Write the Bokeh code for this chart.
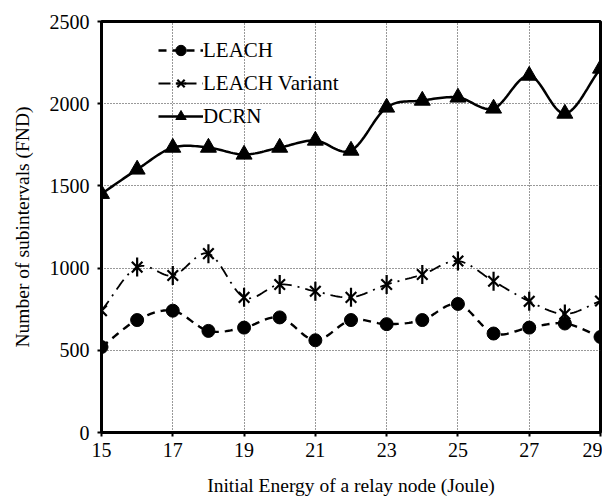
import numpy as np
from bokeh.plotting import figure
from bokeh.models import Legend, LegendItem, FixedTicker, Range1d
from bokeh.embed import file_html
from bokeh.resources import INLINE

energy = [15, 16, 17, 18, 19, 20, 21, 22, 23, 24, 25, 26, 27, 28, 29]
leach = [520, 684, 741, 618, 638, 700, 561, 684, 659, 684, 782, 602, 638, 663, 581]
leach_variant = [741, 1006, 955, 1088, 822, 900, 859, 822, 900, 961, 1043, 920, 798, 721, 800]
dcrn = [1452, 1600, 1733, 1733, 1691, 1733, 1776, 1715, 1977, 2019, 2038, 1971, 2171, 1940, 2214]
x_ticks = [15, 17, 19, 21, 23, 25, 27, 29]
y_ticks = [0, 500, 1000, 1500, 2000, 2500]

FONT = "Liberation Serif"


def smooth(xs, ys, n=16):
    # Catmull-Rom rendering of the curve through the data points
    xs = np.asarray(xs, float)
    ys = np.asarray(ys, float)
    px = np.concatenate([[2 * xs[0] - xs[1]], xs, [2 * xs[-1] - xs[-2]]])
    py = np.concatenate([[2 * ys[0] - ys[1]], ys, [2 * ys[-1] - ys[-2]]])
    ox, oy = [], []
    for i in range(1, len(px) - 2):
        t = np.linspace(0, 1, n, endpoint=False)
        for arr, out in ((px, ox), (py, oy)):
            p0, p1, p2, p3 = arr[i - 1], arr[i], arr[i + 1], arr[i + 2]
            out.extend(0.5 * ((2 * p1) + (-p0 + p2) * t + (2 * p0 - 5 * p1 + 4 * p2 - p3) * t ** 2
                              + (-p0 + 3 * p1 - 3 * p2 + p3) * t ** 3))
    ox.append(xs[-1])
    oy.append(ys[-1])
    return ox, oy


p = figure(width=602, height=501, output_backend="svg", toolbar_location=None,
           x_range=Range1d(15, 29), y_range=Range1d(0, 2500),
           min_border_left=101, min_border_right=2, min_border_top=21, min_border_bottom=69)
p.background_fill_color = "white"
p.border_fill_color = "white"
p.outline_line_color = "black"
p.outline_line_width = 3

for ax in (p.xaxis[0], p.yaxis[0]):
    ax.axis_line_width = 3
    ax.axis_line_color = "black"
    ax.major_tick_line_color = "black"
    ax.major_tick_line_width = 2
    ax.major_tick_out = 4
    ax.major_tick_in = 0
    ax.minor_tick_line_color = None
    ax.major_label_text_font = FONT
    ax.major_label_text_font_size = "20px"
    ax.major_label_text_color = "black"
    ax.axis_label_text_font = FONT
    ax.axis_label_text_font_size = "19.5px"
    ax.axis_label_text_font_style = "normal"
    ax.axis_label_text_color = "black"

p.xaxis.ticker = FixedTicker(ticks=x_ticks)
p.yaxis.ticker = FixedTicker(ticks=y_ticks)
p.xaxis.axis_label = "Initial Energy of a relay node (Joule)"
p.yaxis.axis_label = "Number of subintervals (FND)"
p.xaxis.major_label_standoff = 6
p.yaxis.major_label_standoff = 8
p.xaxis.axis_label_standoff = 15
p.yaxis.axis_label_standoff = 14

p.xgrid.grid_line_color = "#333333"
p.xgrid.grid_line_dash = "1 2"
p.xgrid.grid_line_width = 1
p.ygrid.grid_line_color = "#333333"
p.ygrid.grid_line_dash = "1 2"
p.ygrid.grid_line_width = 1

sx, sy = smooth(energy, leach)
l1 = p.line(sx, sy, line_color="black", line_width=2.4, line_dash="8 6")
m1 = p.scatter(energy, leach, marker="circle", size=13, fill_color="black", line_color="black")

sx, sy = smooth(energy, leach_variant)
l2 = p.line(sx, sy, line_color="black", line_width=1.8, line_dash="12 6 2 6")
m2a = p.scatter(energy, leach_variant, marker="x", size=15, line_color="black", line_width=2.2)
m2b = p.scatter(energy, leach_variant, marker="dash", angle=np.pi / 2, size=19,
                line_color="black", line_width=2.2)

sx, sy = smooth(energy, dcrn)
l3 = p.line(sx, sy, line_color="black", line_width=2.5)
m3 = p.scatter(energy, dcrn, marker="triangle", size=16, fill_color="black", line_color="black")

legend = Legend(items=[
    LegendItem(label="LEACH", renderers=[l1, m1]),
    LegendItem(label="LEACH Variant", renderers=[l2, m2a, m2b]),
    LegendItem(label="DCRN", renderers=[l3, m3]),
], location=(57, 303))
legend.background_fill_alpha = 0
legend.border_line_color = None
legend.label_text_font = FONT
legend.label_text_font_size = "21px"
legend.label_text_color = "black"
legend.glyph_width = 45
legend.glyph_height = 26
legend.label_height = 26
legend.label_standoff = 0
legend.spacing = 7
legend.padding = 4
legend.margin = 0
p.add_layout(legend)

open("out.html", "w").write(file_html(p, INLINE))
